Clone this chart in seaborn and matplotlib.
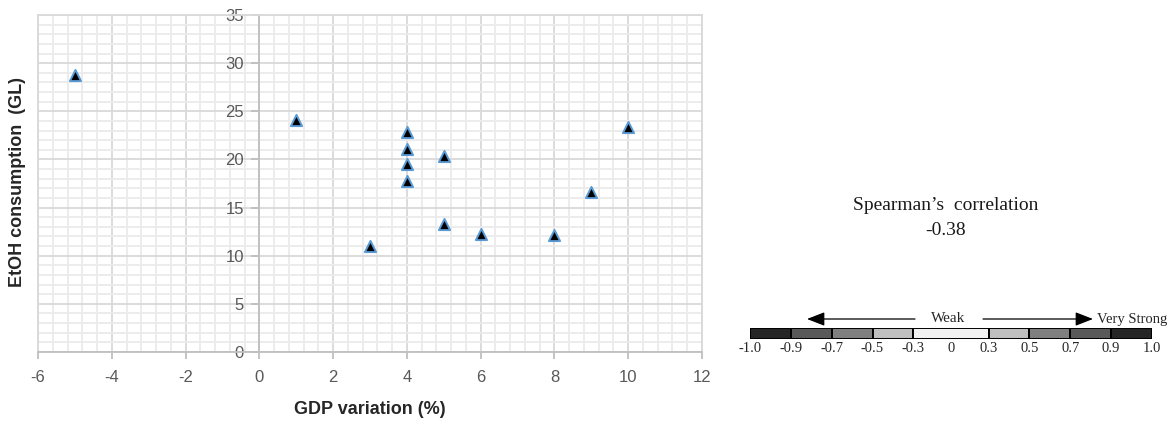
import numpy as np
import pandas as pd
import matplotlib
matplotlib.use("Agg")
import matplotlib.pyplot as plt
import seaborn as sns
from matplotlib.ticker import MultipleLocator

# ---------------- data ----------------
gdp_variation = [-5, 1, 4, 4, 4, 4, 5, 10, 3, 5, 6, 8, 9]
etoh_consumption = [28.8, 24.1, 22.8, 21.1, 19.5, 17.8, 20.4, 23.4, 11.0, 13.3, 12.3, 12.2, 16.6]
x_ticks = [-6, -4, -2, 0, 2, 4, 6, 8, 10, 12]
y_ticks = [0, 5, 10, 15, 20, 25, 30, 35]
spearman_value = "-0.38"
scale_labels = ["-1.0", "-0.9", "-0.7", "-0.5", "-0.3", "0", "0.3", "0.5", "0.7", "0.9", "1.0"]
scale_colors = ["#262626", "#595959", "#7f7f7f", "#bfbfbf", "#f2f2f2",
                "#bfbfbf", "#7f7f7f", "#595959", "#262626"]
scale_widths = [1, 1, 1, 1, 1.84, 1, 1, 1, 1]

df = pd.DataFrame({"gdp": gdp_variation, "etoh": etoh_consumption})

W, H = 1176, 429
def fx(x):
    return x / W
def fy(y):
    return 1 - y / H

sns.set_style("white")
plt.rcParams["font.family"] = ["Liberation Sans", "DejaVu Sans"]
plt.rcParams["axes.unicode_minus"] = False

fig = plt.figure(figsize=(W / 100, H / 100), dpi=100)
ax = fig.add_axes([fx(38), fy(352), (702 - 38) / W, (352 - 15) / H])

sns.scatterplot(data=df, x="gdp", y="etoh", marker="^", s=65, color="black",
                edgecolor="#5b9bd5", linewidth=1.4, ax=ax, zorder=5, clip_on=False)

ax.set_xlim(-6, 12)
ax.set_ylim(0, 35)
ax.set_xticks(x_ticks)
ax.set_yticks(y_ticks)
ax.xaxis.set_minor_locator(MultipleLocator(0.4))
ax.yaxis.set_minor_locator(MultipleLocator(1))
ax.grid(which="minor", color="#ebebeb", linewidth=1.3, zorder=0)
ax.grid(which="major", color="#d9d9d9", linewidth=1.3, zorder=1)
ax.set_axisbelow(True)

for s in ["top", "right"]:
    ax.spines[s].set_color("#d9d9d9")
    ax.spines[s].set_linewidth(1.3)
ax.spines["left"].set_position(("data", 0))
ax.spines["left"].set_color("#bfbfbf")
ax.spines["left"].set_linewidth(1.3)
ax.spines["bottom"].set_color("#bfbfbf")
ax.spines["bottom"].set_linewidth(1.3)
ax.axvline(-6, color="#d9d9d9", linewidth=1.3, clip_on=False, zorder=1)

ax.tick_params(axis="x", which="major", direction="out", length=5, width=1.3,
               color="#bfbfbf", labelcolor="#595959", labelsize=12, pad=8, bottom=True)
ax.tick_params(axis="y", which="major", direction="out", length=6, width=1.3,
               color="#bfbfbf", labelcolor="#595959", labelsize=12, pad=5, left=True)
ax.tick_params(which="minor", length=0)

ax.set_xlabel("")
ax.set_ylabel("")
fig.text(fx(370), fy(410), "GDP variation (%)", fontsize=13, fontweight="bold",
         ha="center", va="center")
fig.text(fx(18), fy(182), "EtOH consumption  (GL)", fontsize=13, fontweight="bold",
         ha="center", va="center", rotation=90)

# ---------------- right panel ----------------
serif = ["Liberation Serif", "DejaVu Serif"]
fig.text(fx(946), fy(206), "Spearman\u2019s  correlation", family=serif, fontsize=14,
         ha="center", va="center", color="#1a1a1a")
fig.text(fx(946), fy(230), spearman_value, family=serif, fontsize=14,
         ha="center", va="center", color="#1a1a1a")

cax = fig.add_axes([fx(750), fy(339), (1152 - 750) / W, 11 / H])
total = sum(scale_widths)
lefts = np.concatenate([[0], np.cumsum(scale_widths)[:-1]])
cax.barh([0] * len(scale_widths), scale_widths, left=lefts, height=1,
         color=scale_colors, edgecolor="black", linewidth=1.4)
cax.set_xlim(0, total)
cax.set_ylim(-0.5, 0.5)
cax.axis("off")

bounds = np.concatenate([[0], np.cumsum(scale_widths)])
label_pos = list(bounds[:5]) + [bounds[4] + scale_widths[4] / 2] + list(bounds[5:])
for lab, p in zip(scale_labels, label_pos):
    cax.text(p, -1.35, lab, family=serif, fontsize=10.5, ha="center", va="center",
             transform=cax.transData, clip_on=False)

fig.text(fx(948), fy(319), "Weak", family=serif, fontsize=11, ha="center", va="center")
fig.text(fx(1097), fy(319), "Very Strong", family=serif, fontsize=10.5, ha="left", va="center")
arrow = dict(arrowstyle="-|>,head_length=0.9,head_width=0.35", color="black", lw=0.9,
             shrinkA=0, shrinkB=0)
fig.add_artist(matplotlib.patches.FancyArrowPatch((fx(915), fy(319)), (fx(807), fy(319)),
               transform=fig.transFigure, mutation_scale=12, **arrow))
fig.add_artist(matplotlib.patches.FancyArrowPatch((fx(983), fy(319)), (fx(1093), fy(319)),
               transform=fig.transFigure, mutation_scale=12, **arrow))

fig.savefig("out.png", dpi=100)
